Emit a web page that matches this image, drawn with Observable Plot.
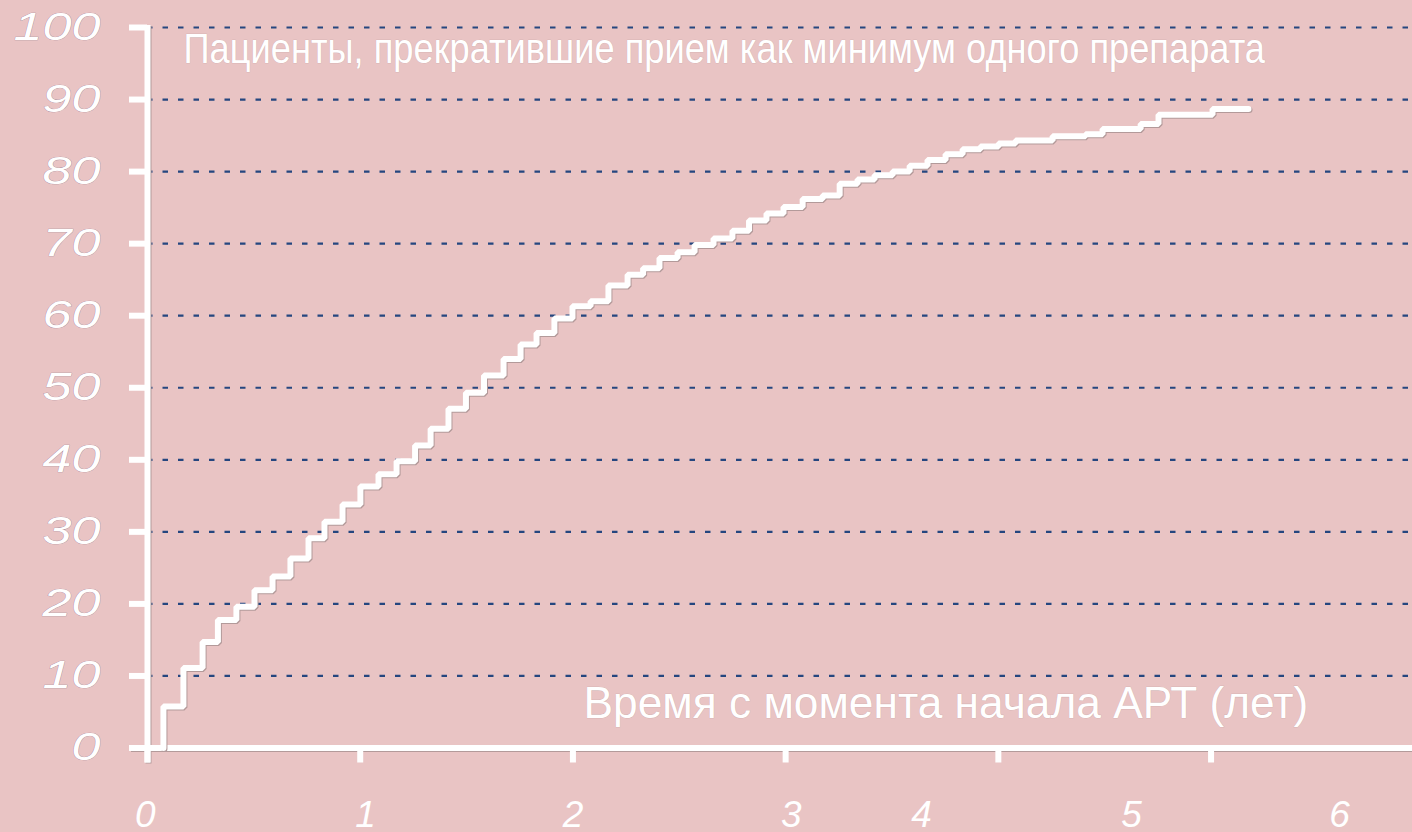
<!DOCTYPE html>
<html>
<head>
<meta charset="utf-8">
<script src="https://cdn.jsdelivr.net/npm/d3@7"></script>
<script src="https://cdn.jsdelivr.net/npm/@observablehq/plot@0.6"></script>
<style>
  html, body { margin: 0; padding: 0; background: #E9C4C4; overflow: hidden; }
  #chart svg { display: block; }
</style>
</head>
<body>
<div id="chart"></div>
<script>
// ---- data ----
const stepYears = [0.075, 0.075, 0.169, 0.259, 0.331, 0.418, 0.503, 0.588, 0.672, 0.757, 0.832, 0.917, 1.001, 1.086, 1.171, 1.258, 1.331, 1.415, 1.497, 1.582, 1.674, 1.754, 1.829, 1.913, 1.998, 2.083, 2.167, 2.257, 2.330, 2.407, 2.492, 2.572, 2.661, 2.750, 2.828, 2.910, 2.990, 3.080, 3.174, 3.254, 3.338, 3.418, 3.503, 3.583, 3.667, 3.752, 3.832, 3.916, 4.001, 4.081, 4.255, 4.410, 4.490, 4.669, 4.753, 5.007, 5.176];
const stepPercent = [0, 5.75, 11.1, 14.7, 17.75, 19.6, 21.9, 23.8, 26.3, 29.1, 31.4, 33.8, 36.3, 38.0, 39.8, 42.0, 44.3, 47.1, 49.3, 51.7, 54.0, 56.0, 57.6, 59.6, 61.3, 62.0, 64.2, 65.7, 66.6, 68.0, 68.8, 69.8, 70.7, 71.8, 73.2, 74.2, 75.1, 76.2, 76.7, 78.3, 78.9, 79.5, 80.0, 80.8, 81.6, 82.4, 83.1, 83.5, 83.9, 84.3, 84.9, 85.2, 85.9, 86.6, 87.9, 88.7, 88.7];

const yTicks = [0, 10, 20, 30, 40, 50, 60, 70, 80, 90, 100];
const yGrid = [10, 20, 30, 40, 50, 60, 70, 80, 90, 100];
const xTicks = [0, 1, 2, 3, 4, 5];
const xTickLabels = ["0", "1", "2", "3", "4", "5", "6"];
// where each x label sits in the picture (years; labels 4–6 are shifted left in the original)
const xLabelPositions = [-0.01, 1.025, 2.0, 3.027, 3.639, 4.626, 5.604];

const titleText = "Пациенты, прекратившие прием как минимум одного препарата";
const xTitleText = "Время с момента начала АРТ (лет)";

// ---- build ----
const steps = stepYears.map((t, i) => ({t, p: stepPercent[i]}));
const bg = "#E9C4C4";
const shadow = "#b39a9a";
const font = "Liberation Sans, Arial, sans-serif";

const chart = Plot.plot({
  width: 1412,
  height: 832,
  marginLeft: 147,
  marginRight: 0,
  marginTop: 27,
  marginBottom: 84.5,
  x: {domain: [0, 5.947], axis: null, label: null},
  y: {domain: [0, 100], axis: null, label: null},
  style: {background: bg, overflow: "visible", fontFamily: font},
  marks: [
    Plot.gridY(yGrid, {stroke: "#25467f", strokeOpacity: 1, strokeWidth: 2.2, strokeDasharray: "5.5,10"}),
    // axis shadows
    Plot.ruleX([0], {stroke: shadow, strokeWidth: 6, dx: 1, dy: 1, insetTop: -2, insetBottom: -15}),
    Plot.ruleY([0], {stroke: shadow, strokeWidth: 6, dx: 1, dy: 1, insetLeft: -17}),
    // axis ticks
    Plot.axisY(yTicks, {
      anchor: "left", label: null, tickSize: 18, tickPadding: 29, stroke: "white", strokeWidth: 6,
      fill: "white", fontSize: 39, fontStyle: "italic", fontFamily: font,
      textStroke: "#6a5878", textStrokeWidth: 0.6, textStrokeOpacity: 0.6,
      tickFormat: d => String(d), ariaDescription: "ylabels"
    }),
    Plot.axisX(xTicks, {anchor: "bottom", label: null, tickSize: 15, stroke: "white", strokeWidth: 6, tickFormat: () => ""}),
    // axis lines
    Plot.ruleX([0], {stroke: "white", strokeWidth: 6, insetTop: -2, insetBottom: -15}),
    Plot.ruleY([0], {stroke: "white", strokeWidth: 6, insetLeft: -17}),
    // step curve
    Plot.line(steps, {x: "t", y: "p", curve: "step-after", stroke: shadow, strokeWidth: 6, dx: 1, dy: 1, strokeLinejoin: "miter", strokeLinecap: "round"}),
    Plot.line(steps, {x: "t", y: "p", curve: "step-after", stroke: "white", strokeWidth: 6, strokeLinejoin: "miter", strokeLinecap: "round"}),
    // x tick labels
    Plot.text(xTickLabels, {
      x: (d, i) => xLabelPositions[i], text: d => d, frameAnchor: "bottom", lineAnchor: "middle", dy: 67,
      fill: "white", fontSize: 37, fontStyle: "italic", fontFamily: font
    }),
    // title & axis title
    Plot.text([titleText], {
      frameAnchor: "top-left", lineAnchor: "middle", dx: 36, dy: 22, text: d => d, textAnchor: "start",
      fill: "white", fontSize: 42, fontFamily: font,
      stroke: "#c9abab", strokeWidth: 0.6, paintOrder: "stroke", ariaDescription: "title"
    }),
    Plot.text([xTitleText], {
      frameAnchor: "bottom-left", lineAnchor: "middle", dx: 436, dy: -44.5, text: d => d, textAnchor: "start",
      fill: "white", fontSize: 44, fontFamily: font,
      stroke: "#c9abab", strokeWidth: 0.6, paintOrder: "stroke", ariaDescription: "xtitle"
    })
  ]
});

document.getElementById("chart").appendChild(chart);

// horizontal stretch / condense of texts, as in the original picture
function stretchTo(el, width) {
  const natural = el.getComputedTextLength();
  if (!natural) return;
  const sx = width / natural;
  const t = el.getAttribute("transform") || "";
  el.setAttribute("transform", (t + ` scale(${sx},1)`).trim());
}
const svg = d3.select(chart);
svg.selectAll("[aria-description=title] text").each(function() { stretchTo(this, 1082); });
svg.selectAll("[aria-description=xtitle] text").each(function() { stretchTo(this, 725); });
svg.selectAll("[aria-description=ylabels] text").each(function() { stretchTo(this, 29 * this.textContent.length); });
</script>
</body>
</html>
